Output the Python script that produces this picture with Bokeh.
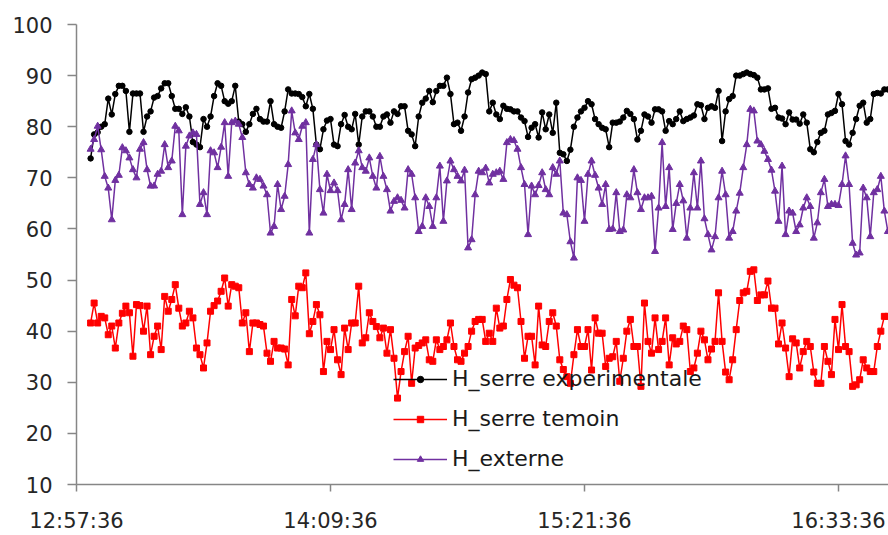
import pandas as pd
from bokeh.plotting import figure
from bokeh.models import (Range1d, FixedTicker, DatetimeTickFormatter, Legend,
                          LegendItem, ColumnDataSource)
from bokeh.embed import file_html
from bokeh.resources import INLINE

# ---------------- data ----------------
tick_labels = ["12:57:36", "14:09:36", "15:21:36", "16:33:36"]
y_ticks = [10, 20, 30, 40, 50, 60, 70, 80, 90, 100]
first_time = "13:01:36"

h_serre_exp = [
    73.8, 78.5, 78.9, 80, 80.5, 85.5, 82.4, 86.4, 88, 88,
    87, 79, 86.5, 86.5, 86.5, 79, 82, 83, 85.7, 86,
    87.5, 88.5, 88.5, 86, 83.5, 83.5, 82.5, 83.8, 82, 77,
    76.5, 76, 81.5, 80, 82, 86, 88.5, 88, 85, 84.5,
    85, 88, 81, 80.5, 79, 80.5, 82.5, 83.5, 81.5, 81,
    81, 85, 80.5, 80,
    79.8, 83, 87.3, 86.5, 86.5, 86.4,
    85.8, 84, 86.4, 83.5, 76.5, 75.6, 79.5, 81.2, 81.5, 76.5,
    76.2, 80.5, 82.3, 80, 79.5, 82.5, 76.5, 82, 83, 83,
    82, 80, 80, 82, 82.4, 80.8, 83, 82.5, 84, 84,
    79.2, 78.5, 76.2, 82, 84.7, 85.5, 87, 84.8, 87, 88,
    88, 89.6, 86.4, 80.5, 80.8, 79.2, 82, 86.7, 89.3, 89.6, 90,
    90.6, 90.3, 83, 84.7, 82.4, 81.5, 84.1, 83.5, 83.4, 83,
    83, 81.8, 81.1, 78, 79.8, 80.5, 77.9, 82.8, 79.5, 82.4,
    78.8, 84.7, 74.9, 74.6, 73.3, 75.5, 80, 81.8, 83, 83.7,
    85, 84.4, 81.5, 80.5, 79.8, 79.5, 76, 80.8, 80.8, 81,
    81.8, 83.1, 82.5, 81.5, 77.5, 79.2, 82.4, 82, 80.8, 83.4,
    83.4, 83, 79.2, 81.1, 80.5, 81.5, 83,
    81.1, 81.5, 81.8, 82.2, 84.4, 84.2, 81.5, 83.7, 84, 83.7,
    87, 77.2, 83, 85.4, 86, 90, 90, 90.3, 90.6, 90.3,
    90.1, 89.6, 87.3, 87.3, 87.5, 83.5, 83.7, 81.8, 81.6, 80.5,
    82.8, 81.4, 81.4, 80.6, 82.4, 80.8, 75.6, 75, 77, 78.8,
    79.2, 82.4, 82.7, 83.1, 86.4, 84.4, 77.2, 76.5, 78.8, 81.5,
    84.1, 84.7, 80.8, 81.5, 86.4, 86.6, 86.5, 87.3, 87.3,
]

h_serre_temoin = [
    41.6, 45.5, 41.6, 42.9, 42.6, 39.3, 41, 36.7, 41.6, 43.5,
    44.9, 43.6, 35.1, 45.2, 45, 40, 44.9, 35.4, 39, 41,
    36.4, 46.8, 43.9, 46.2, 49.1, 44.5, 41, 41.6, 43.9, 42.6,
    36.7, 35.4, 32.8, 37.7, 43.9, 45, 45.9, 47.8, 50.4, 44.9,
    49.1, 48.8, 48.5, 41.6, 43.6, 36, 41.6, 41.6, 41.3, 41,
    35.7, 34.1, 38, 36.7,
    36.7, 36.5, 33.4, 46.2, 43, 48.8,
    48.5, 51.4, 39.5, 41.9, 45.2, 43.2, 32.1, 38, 36.4, 40.3,
    34.4, 31.5, 40.6, 36.4, 41.6, 41.6, 48.8, 37.7, 38.7, 43.6,
    41.9, 40.9, 38.7, 40.6, 35.7, 40.3, 34.7, 26.9, 32.1, 36,
    39, 29.8, 36.7, 37.2, 37.7, 38.3, 34.4, 34.1, 38.3, 36.4,
    37, 38.3, 41.6, 37, 34.4, 34.1, 35.7, 37, 40, 41.9, 42.3,
    42.3, 38, 39.6, 38, 44.5, 40.6, 41, 46.2, 50.1, 49,
    48.5, 41.9, 34.7, 39, 39, 33.4, 44.9, 37.3, 37, 41.9,
    43.6, 41, 34.4, 32.5, 31.1, 29.8, 35.4, 40.3, 37, 37,
    40.3, 32.4, 42.6, 39.6, 39.6, 33.1, 34.7, 35, 38, 30.2,
    34.7, 40, 42.3, 37, 37, 29.2, 45.5, 38, 35.7, 42.6,
    36.4, 38, 42.6, 33.4, 38.7, 37.5, 38,
    41, 40.3, 32.1, 32.8, 35.7, 40, 38.3, 34.4, 36.5, 38,
    47.5, 38, 32, 30.5, 34.4, 40.3, 46, 47.5, 47.8, 51.7,
    52, 46, 47.1, 47.1, 49.8, 44.5, 44.5, 37.5, 41.6, 36.7,
    31.1, 38.5, 37.7, 32.8, 36, 38, 37, 32, 29.8, 29.8,
    37, 34.1, 31.5, 42.3, 36.4, 45.2, 37, 36, 29.2, 29.5,
    30.5, 34.4, 32.8, 32.1, 32.1, 37, 40, 42.9, 42.9,
]

h_externe = [
    75.6, 77.5, 80.1, 75.5, 70.3, 68, 61.8, 69.5, 70.5, 75.9,
    75.3, 73.9, 71.6, 70, 75.6, 76.9, 71.6, 68.4, 68.4, 70.7,
    71.3, 76.5, 72, 73.3, 80.1, 79.2, 62.8, 76.2, 78.2, 78.8,
    78.5, 64.8, 67.1, 62.8, 75.3, 74.9, 72, 76, 80.8, 70.3,
    80.8, 81.1, 80.5, 77.9, 71, 68.7, 68, 70, 69.7, 68.4,
    66.7, 59.2, 60.5, 68.7,
    63.8, 66.4, 72.6, 83.1, 78.8, 77.5,
    80.1, 80.8, 59.2, 73.6, 76.5, 67.7, 63.1, 70.7, 67.5, 69,
    67.5, 61.8, 64.8, 71.6, 63.8, 72.9, 75.3, 72, 71.3, 73.9,
    70.3, 68, 74.2, 70.3, 67.7, 63.5, 65.4, 66.1, 65.6, 64.1,
    71.6, 70.7, 66.1, 59.5, 60.5, 66.1, 64.4, 60.5, 66.1, 72.3,
    61.5, 69.4, 73.3, 71.6, 70.3, 69.4, 71.5, 56.3, 57.9, 66.7, 71.3,
    71, 71.9, 69, 70.7, 71, 71.3, 69.7, 76.9, 77.5, 77.3,
    75.6, 72, 68.7, 58.9, 68.4, 66.7, 68.5, 71, 67.7, 66.7,
    72, 70.7, 73.3, 63.1, 62.8, 57.5, 54.3, 70, 69.5, 61.5,
    70.7, 73.3, 70.5, 68, 64.8, 68.7, 59.9, 60, 67.1, 59.5,
    59.8, 66.7, 66.1, 71.6, 67.1, 63.8, 66.1, 66.1, 66.4, 55.6,
    64.1, 76.9, 64.4, 72, 59.9, 65, 68.7,
    65.5, 58.2, 64.1, 71, 64.1, 73.3, 62, 58.9, 55.9, 58.5,
    66.1, 71.3, 66.7, 58.2, 59.5, 63.5, 67, 72, 76.5, 83.4,
    83.1, 77.2, 76.5, 75.2, 73.6, 71.5, 67.4, 61.5, 72.3, 58.9,
    63.5, 63.1, 59.5, 60.8, 64.1, 66.1, 64.4, 58.2, 61.2, 67.1,
    69.7, 64.4, 64.8, 64.8, 64.6, 68.7, 74.3, 68.7, 57.2, 54.9,
    55.3, 68, 66.1, 58.5, 67.1, 67.7, 70.3, 63.5, 59.5,
]

# ---------------- build ----------------
day = "2000-01-01 "
times = pd.date_range(day + first_time, periods=len(h_serre_exp), freq="1min")
tick_ms = [pd.Timestamp(day + t).value / 1e6 for t in tick_labels]

src = ColumnDataSource(dict(t=times, exp=h_serre_exp, tem=h_serre_temoin, ext=h_externe))

W, H = 888, 535
left, top, bottom = 76, 24, 51
frame_w = W - left
ms_per_px = (tick_ms[1] - tick_ms[0]) / 254.0
x_range = Range1d(tick_ms[0], tick_ms[0] + frame_w * ms_per_px)

p = figure(width=W, height=H, output_backend="svg", toolbar_location=None,
           x_axis_type="datetime", x_range=x_range, y_range=Range1d(10, 100),
           min_border_left=left, min_border_right=0, min_border_top=top,
           min_border_bottom=bottom)
p.xgrid.visible = False
p.ygrid.visible = False
p.outline_line_color = None
p.background_fill_color = "white"

axis_col = "#868686"
lab_col = "#262626"
for ax in (p.xaxis[0], p.yaxis[0]):
    ax.axis_line_color = axis_col
    ax.axis_line_width = 1.5
    ax.major_tick_line_color = axis_col
    ax.major_tick_line_width = 1.5
    ax.major_tick_in = 0
    ax.minor_tick_line_color = None
    ax.major_label_text_font = "DejaVu Sans"
    ax.major_label_text_font_size = "21px"
    ax.major_label_text_color = lab_col

p.yaxis[0].ticker = FixedTicker(ticks=y_ticks)
p.yaxis[0].major_tick_out = 9
p.yaxis[0].major_label_standoff = 15

p.xaxis[0].ticker = FixedTicker(ticks=tick_ms)
fmt = "%H:%M:%S"
p.xaxis[0].formatter = DatetimeTickFormatter(
    microseconds=fmt, milliseconds=fmt, seconds=fmt, minsec=fmt, minutes=fmt,
    hourmin=fmt, hours=fmt, days=fmt, months=fmt, years=fmt)
p.xaxis[0].major_tick_out = 7
p.xaxis[0].major_label_standoff = 17

l_exp = p.line("t", "exp", source=src, line_color="black", line_width=1.5)
m_exp = p.scatter("t", "exp", source=src, marker="circle", size=5.5,
                  fill_color="black", line_color="black")
l_tem = p.line("t", "tem", source=src, line_color="#FF0000", line_width=1.5)
m_tem = p.scatter("t", "tem", source=src, marker="square", size=6,
                  fill_color="#FF0000", line_color="#FF0000")
l_ext = p.line("t", "ext", source=src, line_color="#7030A0", line_width=1.5)
m_ext = p.scatter("t", "ext", source=src, marker="triangle", size=7,
                  fill_color="#7030A0", line_color="#7030A0")

legend = Legend(items=[
    LegendItem(label="H_serre experimentale", renderers=[l_exp, m_exp]),
    LegendItem(label="H_serre temoin", renderers=[l_tem, m_tem]),
    LegendItem(label="H_externe", renderers=[l_ext, m_ext]),
], location=(317, 13), orientation="vertical", padding=0, margin=0,
    spacing=15, label_standoff=5, glyph_width=54, glyph_height=16,
    label_height=16, label_text_font="DejaVu Sans",
    label_text_font_size="22px", label_text_color="#1a1a1a",
    background_fill_alpha=0, border_line_alpha=0)
p.add_layout(legend)

open("out.html", "w").write(file_html(p, INLINE))
